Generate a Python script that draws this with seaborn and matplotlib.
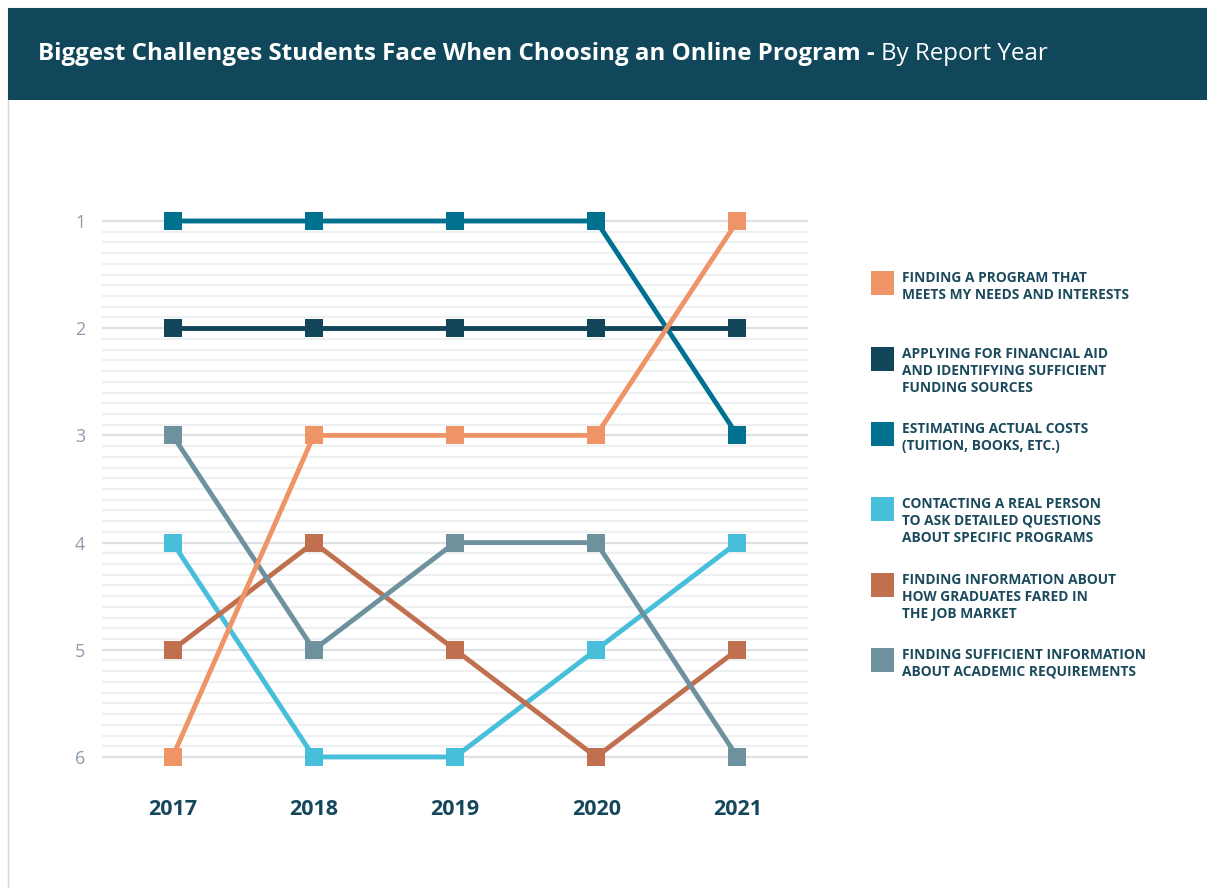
import pandas as pd
import seaborn as sns
import matplotlib.pyplot as plt
from matplotlib.patches import Rectangle

years = [2017, 2018, 2019, 2020, 2021]

labels = [
    "FINDING A PROGRAM THAT\nMEETS MY NEEDS AND INTERESTS",
    "APPLYING FOR FINANCIAL AID\nAND IDENTIFYING SUFFICIENT\nFUNDING SOURCES",
    "ESTIMATING ACTUAL COSTS\n(TUITION, BOOKS, ETC.)",
    "CONTACTING A REAL PERSON\nTO ASK DETAILED QUESTIONS\nABOUT SPECIFIC PROGRAMS",
    "FINDING INFORMATION ABOUT\nHOW GRADUATES FARED IN\nTHE JOB MARKET",
    "FINDING SUFFICIENT INFORMATION\nABOUT ACADEMIC REQUIREMENTS",
]
short = ["program", "aid", "costs", "contact", "jobs", "academic"]

rank_program = [6, 3, 3, 3, 1]
rank_aid = [2, 2, 2, 2, 2]
rank_costs = [1, 1, 1, 1, 3]
rank_contact = [4, 6, 6, 5, 4]
rank_jobs = [5, 4, 5, 6, 5]
rank_academic = [3, 5, 4, 4, 6]

colors = ["#EE9466", "#12455A", "#00718F", "#47BEDA", "#C0704E", "#6E919E"]

ranks = [rank_program, rank_aid, rank_costs, rank_contact, rank_jobs, rank_academic]
rows = []
for name, r in zip(short, ranks):
    for y, v in zip(years, r):
        rows.append({"year": y, "rank": v, "challenge": name})
df = pd.DataFrame(rows)

draw_order = ["aid", "costs", "contact", "jobs", "academic", "program"]
palette = dict(zip(short, colors))

sns.set_style("white")
plt.rcParams['font.family'] = ['Open Sans', 'DejaVu Sans']

W, H = 1207, 888
fig = plt.figure(figsize=(W / 100, H / 100), dpi=100)

# frame + header band
fig.patches.append(Rectangle((8 / W, -0.01), 1.0, 1 - 8 / H + 0.01, transform=fig.transFigure,
                             facecolor="white", edgecolor="#d5d8db", lw=1, zorder=-2))
fig.patches.append(Rectangle((8 / W, 1 - 100 / H), 1.0, 92 / H, transform=fig.transFigure,
                             facecolor="#10475B", edgecolor="none", zorder=-1))

t1 = fig.text(38 / W, 1 - 54 / H, "Biggest Challenges Students Face When Choosing an Online Program - ",
              color="white", fontsize=17.4, fontweight="bold", va="center", ha="left")
fig.canvas.draw()
bb = t1.get_window_extent()
fig.text(bb.x1 / W, 1 - 54 / H, "By Report Year", color="white", fontsize=17.4,
         va="center", ha="left")

ax = fig.add_axes([102 / W, 1 - 780 / H, 706 / W, 580 / H])
ax.set_zorder(2)

# gridlines every 0.1 rank, darker at whole ranks
for i in range(51):
    v = 1 + i / 10
    major = i % 10 == 0
    ax.axhline(v, color="#dcdfe3" if major else "#eeeff1", lw=1.6, zorder=0)

sns.lineplot(data=df, x="year", y="rank", hue="challenge", hue_order=draw_order,
             palette=palette, marker="s", markersize=13, markeredgewidth=0,
             linewidth=3.5, legend=False, ax=ax, zorder=3)

ax.set_xlim(2016.5, 2021.5)
ax.set_ylim(6.215, 0.804)
ax.set_xticks(years)
ax.set_xticklabels([str(y) for y in years], fontsize=15.5, fontweight="bold", color="#15475C")
ax.set_yticks([1, 2, 3, 4, 5, 6])
ax.set_yticklabels(["1", "2", "3", "4", "5", "6"], fontsize=13, color="#8E9CAB")
ax.tick_params(axis="x", length=0, pad=14)
ax.tick_params(axis="y", length=0, pad=12)
ax.set_xlabel("")
ax.set_ylabel("")
for s in ax.spines.values():
    s.set_visible(False)
ax.set_facecolor("none")

# legend
sq_tops = [271, 347, 422, 497, 573, 648]
for lab, col, top in zip(labels, colors, sq_tops):
    fig.patches.append(Rectangle((871 / W, 1 - (top + 24) / H), 23 / W, 24 / H,
                                 transform=fig.transFigure, facecolor=col, edgecolor="none"))
    fig.text(902 / W, 1 - top / H, lab, fontsize=9.9, fontweight="bold", color="#1B4A5C",
             va="top", ha="left", linespacing=1.25)

fig.savefig("out.png", dpi=100)
